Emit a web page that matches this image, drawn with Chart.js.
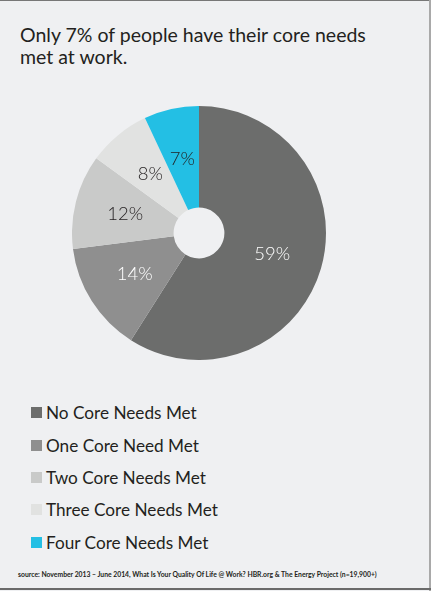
<!DOCTYPE html>
<html>
<head>
<meta charset="utf-8">
<script src="https://cdn.jsdelivr.net/npm/chart.js@4"></script>
<style>
  html,body{margin:0;padding:0;}
  body{width:431px;height:591px;background:#eff0f2;position:relative;overflow:hidden;font-family:Lato,"Open Sans",sans-serif;}
  #frameTop{position:absolute;left:0;top:0;width:431px;height:1px;background:#777;}
  #frameRight{position:absolute;left:429px;top:0;width:2px;height:591px;background:#a9a9a9;}
  #frameBottom{position:absolute;left:0;top:588px;width:431px;height:2px;background:#6a6a6a;}
  #title{position:absolute;left:20px;top:24px;font-size:19.5px;line-height:22px;color:#231f20;font-weight:400;}
  #chartBox{position:absolute;left:72px;top:106px;width:254px;height:254px;}
  #legend{position:absolute;left:31px;top:0;width:380px;}
  .item{position:absolute;left:0;height:20px;display:flex;align-items:center;font-size:17.2px;color:#231f20;white-space:nowrap;}
  .sw{width:11px;height:11px;margin-right:4px;}
  #source{position:absolute;left:18px;top:570px;font-size:6.8px;color:#231f20;font-weight:700;white-space:nowrap;}
</style>
</head>
<body>
<div id="frameTop"></div><div id="frameRight"></div><div id="frameBottom"></div>
<div id="title"></div>
<div id="chartBox"><canvas id="c" width="254" height="254"></canvas></div>
<div id="legend"></div>
<div id="source"></div>
<script>
const titleLines = ["Only 7% of people have their core needs", "met at work."];
const categories = ["No Core Needs Met", "One Core Need Met", "Two Core Needs Met", "Three Core Needs Met", "Four Core Needs Met"];
const values = [59, 14, 12, 8, 7];
const valueLabels = ["59%", "14%", "12%", "8%", "7%"];
const colors = ["#6c6d6c", "#8f8f8f", "#c9cac9", "#e1e2e1", "#23bfe4"];
const labelColors = ["#ffffff", "#ffffff", "#231f20", "#231f20", "#231f20"];
const sourceText = "source: November 2013 \u2013 June  2014, What Is Your Quality Of Life @ Work? HBR.org & The Energy Project (n=19,900+)";

document.getElementById('title').innerHTML = titleLines.join('<br>');
document.getElementById('source').textContent = sourceText;
const legend = document.getElementById('legend');
const rowCenters = [412, 445, 477, 509, 542];
categories.forEach((cat, i) => {
  const d = document.createElement('div');
  d.className = 'item';
  d.style.top = (rowCenters[i] - 10) + 'px';
  const s = document.createElement('span'); s.className = 'sw'; s.style.background = colors[i];
  const t = document.createElement('span'); t.textContent = cat;
  d.appendChild(s); d.appendChild(t);
  legend.appendChild(d);
});

const sliceLabels = {
  id: 'sliceLabels',
  afterDatasetsDraw(chart) {
    const ctx = chart.ctx;
    const meta = chart.getDatasetMeta(0);
    ctx.save();
    ctx.font = '300 18.5px Lato, "Open Sans", sans-serif';
    ctx.textAlign = 'center';
    ctx.textBaseline = 'middle';
    meta.data.forEach((arc, i) => {
      const p = arc.tooltipPosition();
      ctx.fillStyle = labelColors[i];
      ctx.fillText(valueLabels[i], p.x, p.y);
    });
    ctx.restore();
  }
};

new Chart(document.getElementById('c'), {
  type: 'doughnut',
  data: {
    labels: categories,
    datasets: [{ data: values, backgroundColor: colors, borderWidth: 0, hoverOffset: 0 }]
  },
  options: {
    responsive: false,
    animation: false,
    cutout: '20%',
    layout: { padding: 0 },
    plugins: { legend: { display: false }, tooltip: { enabled: false }, title: { display: false } }
  },
  plugins: [sliceLabels]
});
</script>
</body>
</html>
